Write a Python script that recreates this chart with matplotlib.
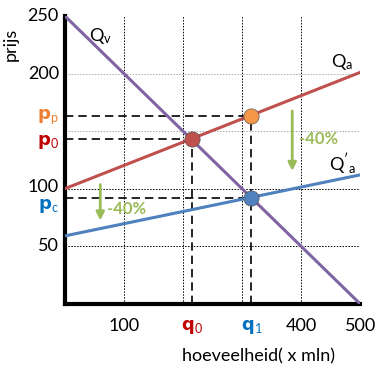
import matplotlib.pyplot as plt

plt.rcParams["font.family"] = ["Lato", "DejaVu Sans"]
plt.rcParams["mathtext.fontset"] = "custom"
plt.rcParams["mathtext.rm"] = "Lato"
plt.rcParams["mathtext.bf"] = "DejaVu Sans:bold"

# demand (Qv), supply (Qa) and supply after the 40% cut (Q'a), as end points
quantity_ends = [0, 500]
demand_prices = [250, 0]
supply_prices = [100, 201]
supply_new_prices = [59, 112]

# equilibrium points
q0, p0 = 215, 143
q1, pp, pc = 316, 163, 92

x_ticks = [100, q0, q1, 400, 500]
x_labels = ["100", "$\\mathbf{q}_{\\mathrm{0}}$", "$\\mathbf{q}_{\\mathrm{1}}$", "400", "500"]
x_colors = ["black", "#C00000", "#0070C0", "black", "black"]
y_ticks = [50, pc, 100, p0, pp, 200, 250]
y_labels = ["50", "$\\mathbf{p}_{\\mathrm{c}}$", "100", "$\\mathbf{p}_{\\mathrm{0}}$",
            "$\\mathbf{p}_{\\mathrm{p}}$", "200", "250"]
y_colors = ["black", "#0070C0", "black", "#C00000", "#ED7D31", "black", "black"]
y_shift_px = [0, -8, 2, -3, 0, 0, 0]

PURPLE = "#8064A2"
RED = "#C0504D"
BLUE = "#4F81BD"
GREEN = "#9BBB59"
ORANGE = "#F79646"

fig = plt.figure(figsize=(3.86, 3.71), dpi=100)
ax = fig.add_axes([0.168, 0.181, 0.765, 0.776])
ax.set_xlim(0, 500)
ax.set_ylim(0, 250)

# grid
for x in [100, 200, 300, 400, 500]:
    ax.axvline(x, color="black", lw=0.7, ls=(0, (1.5, 1.5)), zorder=1)
for y, c in [(50, "black"), (100, "black"), (150, "#aaaaaa"), (200, "#aaaaaa")]:
    ax.axhline(y, color=c, lw=0.7, ls=(0, (1.5, 1.5)), zorder=1)

# curves
ax.plot(quantity_ends, demand_prices, color=PURPLE, lw=2.2, zorder=3)
ax.plot(quantity_ends, supply_prices, color=RED, lw=2.2, zorder=3)
ax.plot(quantity_ends, supply_new_prices, color=BLUE, lw=2.2, zorder=3)

# dashed guides
dash = dict(color="black", lw=1.2, ls=(0, (5, 3)), zorder=2)
ax.plot([0, q0], [p0, p0], **dash)
ax.plot([q0, q0], [0, p0], **dash)
ax.plot([0, q1], [pp, pp], **dash)
ax.plot([q1, q1], [0, pp], **dash)
ax.plot([0, q1], [pc, pc], **dash)

# points
for q, p, c in [(q0, p0, RED), (q1, pp, ORANGE), (q1, pc, BLUE)]:
    ax.plot(q, p, "o", ms=11, color=c, mec="#555555", mew=0.5, zorder=5)

# shift arrows
for x, y0, y1, tx, ty in [(385, 170, 113, 396, 143), (60, 106, 70, 72, 82)]:
    ax.annotate("", xy=(x, y1), xytext=(x, y0),
                arrowprops=dict(arrowstyle="-|>", color=GREEN, lw=2, mutation_scale=12))
    ax.text(tx, ty, "-40%", color=GREEN, fontsize=12, fontweight="bold", va="center")

# curve names
ax.text(60, 233, "$\\mathregular{Q_v}$", fontsize=13, ha="center", va="center")
ax.text(470, 210, "$\\mathregular{Q_a}$", fontsize=13, ha="center", va="center")
ax.text(470, 121, "$\\mathregular{Q'_a}$", fontsize=13, ha="center", va="center")

# axes styling
for s in ["top", "right"]:
    ax.spines[s].set_visible(False)
for s in ["left", "bottom"]:
    ax.spines[s].set_linewidth(3)
ax.set_xticks(x_ticks)
ax.set_xticklabels(x_labels, fontsize=13)
for lab, c in zip(ax.get_xticklabels(), x_colors):
    lab.set_color(c)

# y labels drawn by hand so p_c can sit just under 100 like the original
ax.set_yticks(y_ticks)
ax.set_yticklabels([])
for y, lab, c, dy in zip(y_ticks, y_labels, y_colors, y_shift_px):
    ax.annotate(lab, xy=(0, y), xycoords=("axes fraction", "data"),
                xytext=(-6, dy), textcoords="offset pixels",
                ha="right", va="center", fontsize=13, color=c)
ax.tick_params(axis="x", length=0, pad=10)
ax.tick_params(axis="y", length=0)
ax.set_xlabel("hoeveelheid( x mln)", fontsize=13)
ax.xaxis.set_label_coords(0.655, -0.155)
ax.set_ylabel("prijs", fontsize=13)
ax.yaxis.set_label_coords(-0.155, 0.9)

fig.savefig("out.png", dpi=100)
